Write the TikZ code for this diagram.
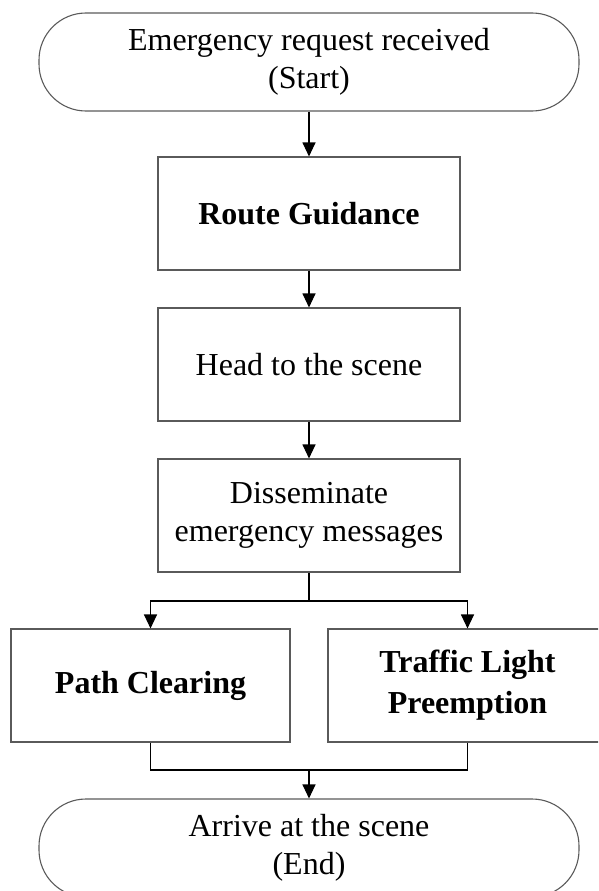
\documentclass[tikz,border=0pt]{standalone}
\usepackage{fontspec}
\setmainfont{Liberation Serif}
\usetikzlibrary{arrows.meta}
\definecolor{boxgray}{HTML}{5A5A5A}
\tikzset{
  term/.style={draw=boxgray, line width=1.1pt, rectangle, rounded corners=47pt,
    minimum width=540pt, minimum height=98pt, inner sep=0pt, align=center,
    font=\fontsize{32}{38}\selectfont},
  proc/.style={draw=boxgray, line width=1.1pt, rectangle,
    minimum width=302pt, minimum height=113pt, inner sep=0pt, align=center,
    font=\fontsize{32}{38}\selectfont},
  wideproc/.style={proc, minimum width=279pt},
  boldtxt/.style={font=\fontsize{32}{41}\selectfont\bfseries},
  conn/.style={draw=black, line width=1.1pt},
  arr/.style={conn, -{Triangle[length=14pt,width=13pt]}}
}
\begin{document}
\begin{tikzpicture}[x=1pt,y=-1pt]
\useasboundingbox (0,0) rectangle (598,891);
\clip (0,0) rectangle (598,891);
\node[term] (start) at (309,62) {Emergency request received\\(Start)};
\node[proc, boldtxt] (route) at (309,213.5) {Route Guidance};
\node[proc] (head) at (309,364.5) {Head to the scene};
\node[proc] (diss) at (309,515.5) {Disseminate\\emergency messages};
\node[wideproc, boldtxt] (path) at (150.5,685.5) {Path Clearing};
\node[wideproc, boldtxt] (tlp) at (467.5,685.5) {Traffic Light\\Preemption};
\node[term] (end) at (309,848) {Arrive at the scene\\(End)};
\coordinate (split) at (309,601);
\coordinate (merge) at (309,770);
\draw[arr] (start.south) -- (route.north);
\draw[arr] (route.south) -- (head.north);
\draw[arr] (head.south) -- (diss.north);
\draw[conn] (diss.south) -- (split);
\draw[arr] (split) -| (path.north);
\draw[arr] (split) -| (tlp.north);
\draw[conn] (path.south) |- (merge);
\draw[conn] (tlp.south) |- (merge);
\draw[arr] (merge) -- (end.north);
\end{tikzpicture}
\end{document}
